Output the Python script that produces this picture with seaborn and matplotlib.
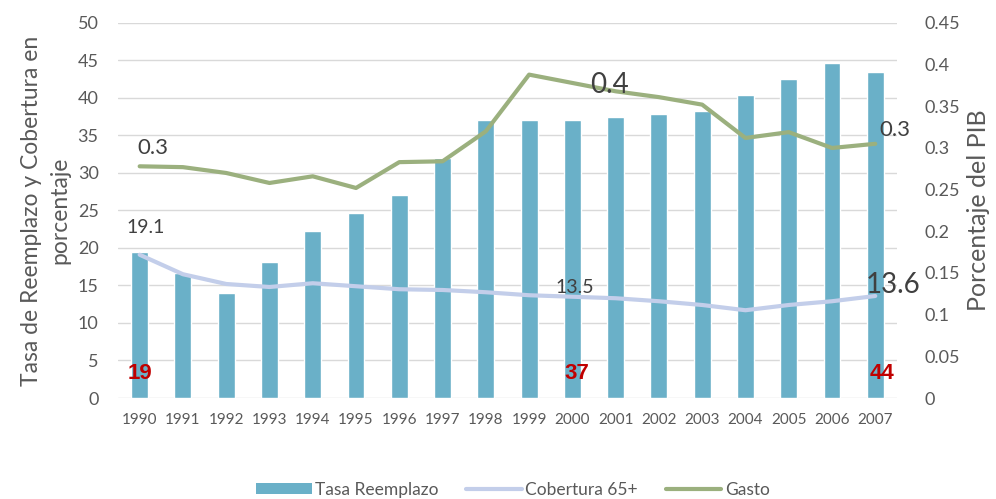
import matplotlib
matplotlib.use("Agg")
import matplotlib.pyplot as plt
import seaborn as sns
import pandas as pd
from matplotlib.patches import Patch
from matplotlib.lines import Line2D

years = [str(y) for y in range(1990, 2008)]
tasa_reemplazo = [19.4, 16.7, 14.0, 18.1, 22.3, 24.7, 27.1, 32.0, 37.1, 37.1, 37.0, 37.4, 37.9, 38.3, 40.4, 42.5, 44.7, 43.5]
cobertura_65 = [19.1, 16.5, 15.2, 14.8, 15.3, 14.9, 14.5, 14.4, 14.1, 13.7, 13.5, 13.3, 12.9, 12.4, 11.7, 12.4, 12.9, 13.6]
gasto = [0.278, 0.277, 0.270, 0.258, 0.266, 0.252, 0.283, 0.284, 0.320, 0.388, 0.378, 0.368, 0.361, 0.352, 0.312, 0.319, 0.300, 0.305]

sns.set_theme(style="white")
plt.rcParams['font.family'] = ['Lato', 'DejaVu Sans']

GREY = "#595959"
DARK = "#404040"
BAR = "#6AB0C8"
COB = "#C3CEEA"
GAS = "#9BB07E"
RED = "#C00000"

df = pd.DataFrame({"year": years, "tasa": tasa_reemplazo, "cob": cobertura_65, "gasto": gasto})
df["idx"] = range(len(years))

fig = plt.figure(figsize=(9.96, 4.99), dpi=100)
ax = fig.add_axes([0.1185, 0.2024, 0.782, 0.7516])

sns.barplot(data=df, x="year", y="tasa", color=BAR, width=0.39, saturation=1, ax=ax)
sns.lineplot(data=df, x="idx", y="cob", color=COB, linewidth=3, ax=ax)
ax.set_xlim(-0.5, len(years) - 0.5)
ax.set_ylim(0, 50)
ax.set_yticks(range(0, 51, 5))
ax.yaxis.grid(True, color="#D9D9D9", linewidth=1)
ax.set_axisbelow(True)
for s in ax.spines.values():
    s.set_visible(False)
ax.tick_params(axis="y", labelsize=13, colors=GREY, length=0, pad=14)
ax.tick_params(axis="x", labelsize=11, colors=GREY, length=0, pad=11)
ax.set_xticks(range(len(years)))
ax.set_xticklabels(years)
ax.set_xlabel("")
ax.set_ylabel("Tasa de Reemplazo y Cobertura en\nporcentaje", fontsize=16.5, color=GREY, linespacing=1.4)
ax.yaxis.set_label_coords(-0.0616, 0.5)

ax2 = ax.twinx()
sns.lineplot(data=df, x="idx", y="gasto", color=GAS, linewidth=3, ax=ax2)
ax2.set_ylim(0, 0.45)
ax2.set_yticks([i * 0.05 for i in range(10)])
ax2.set_yticklabels(["0", "0.05", "0.1", "0.15", "0.2", "0.25", "0.3", "0.35", "0.4", "0.45"])
for s in ax2.spines.values():
    s.set_visible(False)
ax2.tick_params(axis="y", labelsize=13, colors=GREY, length=0, pad=20)
ax2.set_ylabel("Porcentaje del PIB", fontsize=18, color=GREY)
ax2.yaxis.set_label_coords(1.0899, 0.5)
ax2.grid(False)
ax2.set_xlim(-0.5, len(years) - 0.5)

# annotations
ax2.text(0.31, 0.30, "0.3", fontsize=16, color=DARK, ha="center", va="center")
ax.text(0.13, 22.7, "19.1", fontsize=14, color=DARK, ha="center", va="center")
ax2.text(10.86, 0.3756, "0.4", fontsize=20, color=DARK, ha="center", va="center")
ax.text(10.05, 14.7, "13.5", fontsize=14, color=DARK, ha="center", va="center")
ax.text(17.4, 15.1, "13.6", fontsize=20, color=DARK, ha="center", va="center")
ax2.text(17.45, 0.3216, "0.3", fontsize=16, color=DARK, ha="center", va="center")
for xi, yv, t in [(0, 3.2, "19"), (10.1, 3.3, "37"), (17.15, 3.3, "44")]:
    ax.text(xi, yv, t, fontsize=16, color=RED, fontweight="bold", family=["Liberation Sans", "DejaVu Sans"],
            ha="center", va="center")

handles = [Patch(facecolor=BAR, edgecolor="none"),
           Line2D([0], [0], color=COB, linewidth=3),
           Line2D([0], [0], color=GAS, linewidth=3)]
labels = ["Tasa Reemplazo", "Cobertura 65+", "Gasto"]
fig.legend(handles, labels, loc="center", bbox_to_anchor=(0.515, 0.018), ncol=3, frameon=False,
           fontsize=12.5, labelcolor=GREY, handlelength=3.2, handletextpad=0.2, columnspacing=1.6,
           handleheight=0.6)

fig.savefig("out.png", dpi=100)
